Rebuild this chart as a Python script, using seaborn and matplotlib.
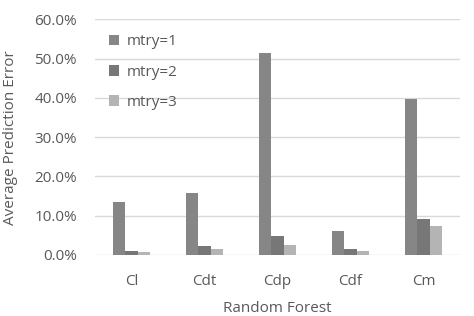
import matplotlib
matplotlib.use("Agg")
import matplotlib.pyplot as plt
import seaborn as sns
import pandas as pd
from matplotlib.ticker import FuncFormatter

categories = ["Cl", "Cdt", "Cdp", "Cdf", "Cm"]
series_names = ["mtry=1", "mtry=2", "mtry=3"]
mtry1 = [0.134, 0.159, 0.515, 0.062, 0.396]
mtry2 = [0.011, 0.024, 0.048, 0.0145, 0.092]
mtry3 = [0.0085, 0.0145, 0.025, 0.011, 0.073]
colors = ["#868686", "#777777", "#b4b4b4"]

rows = []
for name, vals in zip(series_names, [mtry1, mtry2, mtry3]):
    for c, v in zip(categories, vals):
        rows.append({"cat": c, "series": name, "value": v})
df = pd.DataFrame(rows)

sns.set_theme(style="white")
plt.rcParams['font.family'] = ['Open Sans', 'DejaVu Sans']
text_color = "#595959"

fig = plt.figure(figsize=(4.74, 3.16), dpi=100)
ax = fig.add_axes([95/474, (316-255)/316, (460-95)/474, (255-19.3)/316])

sns.barplot(data=df, x="cat", y="value", hue="series", palette=colors,
            width=0.5, gap=0, ax=ax, saturation=1, legend=True,
            linewidth=0, edgecolor="none")

ax.set_ylim(0, 0.6)
ax.set_yticks([0, 0.1, 0.2, 0.3, 0.4, 0.5, 0.6])
ax.yaxis.set_major_formatter(FuncFormatter(lambda v, p: f"{v*100:.1f}%"))
ax.grid(axis="y", color="#d9d9d9", linewidth=1)
ax.set_axisbelow(True)
for s in ["top", "right", "left", "bottom"]:
    ax.spines[s].set_visible(False)
ax.tick_params(axis="both", length=0, labelsize=11, colors=text_color)
ax.tick_params(axis="y", pad=13)
ax.tick_params(axis="x", pad=14)
ax.set_xlabel("Random Forest", fontsize=11, color=text_color, labelpad=8)
ax.set_ylabel("Average Prediction Error", fontsize=11, color=text_color, labelpad=6)
ax.yaxis.set_label_coords(-(95-18)/365, 0.5)

leg = ax.legend(loc="upper left", bbox_to_anchor=(0.0, 0.995), frameon=False,
                labelspacing=1.0, handlelength=0.7, handleheight=0.7,
                handletextpad=0.5, fontsize=11)
for t in leg.get_texts():
    t.set_color(text_color)

fig.savefig("out.png", dpi=100)
